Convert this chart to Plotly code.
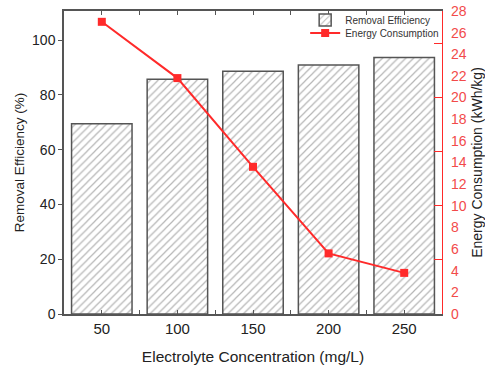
import plotly.graph_objects as go

# Electrolyte concentration (mg/L)
concentration = [50, 100, 150, 200, 250]
# Removal efficiency (%)
removal_efficiency = [69.4, 85.7, 88.6, 90.9, 93.6]
# Energy consumption (kWh/kg)
energy_consumption = [27.0, 21.8, 13.6, 5.6, 3.8]

left_ticks = [0, 20, 40, 60, 80, 100]
right_labels = list(range(0, 29, 2))
right_major = [0, 5, 10, 15, 20, 25]

RED = "#ff2a2a"
LABEL_RED = "#f24a4a"
FRAME = "#555555"
FONT = "Liberation Sans, Arial, sans-serif"

fig = go.Figure()

fig.add_trace(go.Bar(
    x=concentration, y=removal_efficiency, name="Removal Efficiency",
    width=40,
    marker=dict(color="white", line=dict(color=FRAME, width=1.5),
                pattern=dict(shape="/", fgcolor="#6e6e6e", bgcolor="white",
                             size=5.5, solidity=0.22)),
    yaxis="y", legend="legend",
))

fig.add_trace(go.Scatter(
    x=concentration, y=energy_consumption, name="Energy Consumption",
    mode="lines+markers",
    line=dict(color=RED, width=2),
    marker=dict(symbol="square", size=8, color=RED),
    yaxis="y2", legend="legend2",
))

# invisible trace to bind the tick-only right axis
fig.add_trace(go.Scatter(x=[concentration[0]], y=[0], yaxis="y3", mode="markers",
                         marker=dict(opacity=0), showlegend=False, hoverinfo="skip"))

legend_style = dict(xanchor="left", yanchor="middle", bgcolor="rgba(0,0,0,0)",
                    font=dict(size=10, color="#333333"), itemwidth=30,
                    borderwidth=0)

fig.update_layout(
    width=485, height=369,
    margin=dict(l=64, r=43, t=11, b=55, autoexpand=False),
    paper_bgcolor="white", plot_bgcolor="white",
    font=dict(family=FONT, size=13, color="#222222"),
    showlegend=True,
    legend=dict(x=0.638, y=0.970, **legend_style),
    legend2=dict(x=0.638, y=0.927, **legend_style),
    xaxis=dict(
        range=[25, 275], tickvals=concentration, automargin=False,
        ticks="inside", ticklen=4, tickcolor=FRAME,
        showline=True, linecolor=FRAME, linewidth=1.5, mirror="ticks",
        showgrid=False, zeroline=False,
        title=dict(text="Electrolyte Concentration (mg/L)", font=dict(size=15.5), standoff=15),
        tickfont=dict(size=15),
        minor=dict(ticks="inside", ticklen=4, tickcolor=FRAME, dtick=25, tick0=25),
    ),
    yaxis=dict(
        range=[0, 110.6], tickvals=left_ticks, automargin=False,
        ticks="outside", ticklen=4, tickcolor=FRAME,
        showline=True, linecolor=FRAME, linewidth=1.5,
        showgrid=False, zeroline=False,
        title=dict(text="Removal Efficiency (%)", font=dict(size=13.5), standoff=4),
        tickfont=dict(size=14),
    ),
    yaxis2=dict(
        range=[0, 28], tickvals=right_labels, overlaying="y", side="right",
        automargin=False,
        ticks="", showline=True, linecolor=RED, linewidth=1.2,
        showgrid=False, zeroline=False, ticklabelstandoff=5,
        tickfont=dict(size=14, color=LABEL_RED),
        title=dict(text="Energy Consumption (kWh/kg)", font=dict(size=14, color="#222222"), standoff=10),
    ),
    yaxis3=dict(
        range=[0, 28], tickvals=right_major, overlaying="y", side="right",
        automargin=False,
        ticks="inside", ticklen=8, tickcolor=RED, showticklabels=False,
        showline=False, showgrid=False, zeroline=False,
    ),
)

fig.write_html("out.html")
